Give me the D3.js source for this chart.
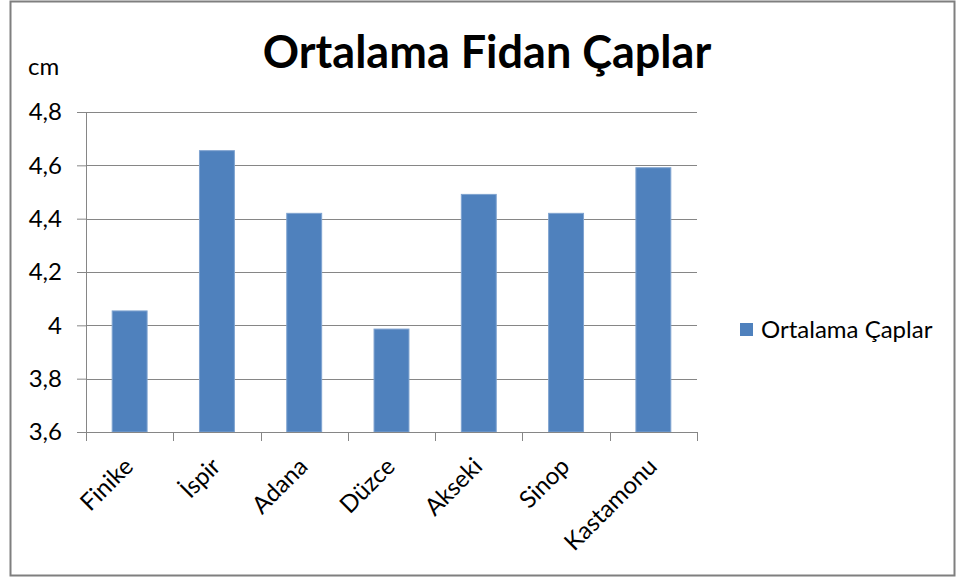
<!DOCTYPE html>
<html>
<head>
<meta charset="utf-8">
<script src="https://cdn.jsdelivr.net/npm/d3@7"></script>
<style>
  body { margin: 0; background: #fff; }
  text { font-family: Lato, 'Open Sans', sans-serif; fill: #000; }
</style>
</head>
<body>
<svg id="chart" width="963" height="580"></svg>
<script>
// data
const categories = ['Finike', 'İspir', 'Adana', 'Düzce', 'Akseki', 'Sinop', 'Kastamonu'];
const values = [4.054, 4.655, 4.42, 3.986, 4.491, 4.42, 4.591];
const yTicks = [3.6, 3.8, 4.0, 4.2, 4.4, 4.6, 4.8];
const seriesName = 'Ortalama Çaplar';
const chartTitle = 'Ortalama Fidan Çaplar';
const yUnit = 'cm';

const svg = d3.select('#chart');
const margin = {top: 112, right: 266, bottom: 148, left: 86},
    width = 963 - margin.left - margin.right,
    height = 580 - margin.top - margin.bottom;

const trLocale = d3.formatLocale({decimal: ',', thousands: '.', grouping: [3], currency: ['', ' ₺']});
const fmt = trLocale.format('~g');

// outer frame
svg.append('rect')
    .attr('x', 10.5).attr('y', 1.5)
    .attr('width', 944).attr('height', 574)
    .attr('fill', 'none')
    .attr('stroke', '#7f7f7f')
    .attr('stroke-width', 2);

const g = svg.append('g')
    .attr('transform', `translate(${margin.left},${margin.top})`);

const x = d3.scaleBand().domain(categories).range([0, width]).paddingInner(0.6).paddingOuter(0.3);
const xb = d3.scaleBand().domain(categories).range([0, width]);
const y = d3.scaleLinear().domain([3.6, 4.8]).range([height, 0]);

// gridlines
g.append('g').selectAll('line')
    .data(yTicks.slice(1))
    .join('line')
    .attr('x1', 0).attr('x2', width)
    .attr('y1', d => Math.round(y(d)) + 0.5).attr('y2', d => Math.round(y(d)) + 0.5)
    .attr('stroke', '#868686');

// bars
g.append('g').selectAll('rect')
    .data(values)
    .join('rect')
    .attr('x', (d, i) => x(categories[i]))
    .attr('y', d => y(d))
    .attr('width', x.bandwidth())
    .attr('height', d => height - y(d))
    .attr('fill', '#4f81bd')
    .attr('stroke', '#7fa3d0')
    .attr('stroke-width', 1);

// y axis
const yAxis = g.append('g')
    .call(d3.axisLeft(y).tickValues(yTicks).tickFormat(fmt).tickSize(9).tickPadding(15));
yAxis.select('.domain').attr('stroke', '#868686');
yAxis.selectAll('.tick line').attr('stroke', '#868686');
yAxis.selectAll('.tick text').attr('font-size', '24px').attr('font-family', 'Lato').attr('fill', '#000');

// x axis: line + boundary ticks
g.append('line')
    .attr('x1', 0).attr('x2', width)
    .attr('y1', height + 0.5).attr('y2', height + 0.5)
    .attr('stroke', '#868686');
g.append('g').selectAll('line')
    .data(categories.map(c => xb(c)).concat([width]))
    .join('line')
    .attr('x1', d => Math.round(d) + 0.5).attr('x2', d => Math.round(d) + 0.5)
    .attr('y1', height).attr('y2', height + 9)
    .attr('stroke', '#868686');

g.append('g').selectAll('text')
    .data(categories)
    .join('text')
    .attr('transform', d => `translate(${xb(d) + xb.bandwidth() / 2 + 5},${height + 36}) rotate(-45)`)
    .attr('text-anchor', 'end')
    .attr('font-size', '24px')
    .text(d => d);

// title and unit
svg.append('text')
    .attr('x', 487).attr('y', 68)
    .attr('text-anchor', 'middle')
    .attr('font-size', '45px')
    .attr('font-weight', 'bold')
    .text(chartTitle);

svg.append('text')
    .attr('x', 28).attr('y', 75)
    .attr('font-size', '24px')
    .text(yUnit);

// legend
const legend = svg.append('g').attr('transform', 'translate(740,323)');
legend.append('rect')
    .attr('width', 13).attr('height', 13)
    .attr('fill', '#4f81bd');
legend.append('text')
    .attr('x', 21).attr('y', 15)
    .attr('font-size', '24px')
    .text(seriesName);
</script>
</body>
</html>
